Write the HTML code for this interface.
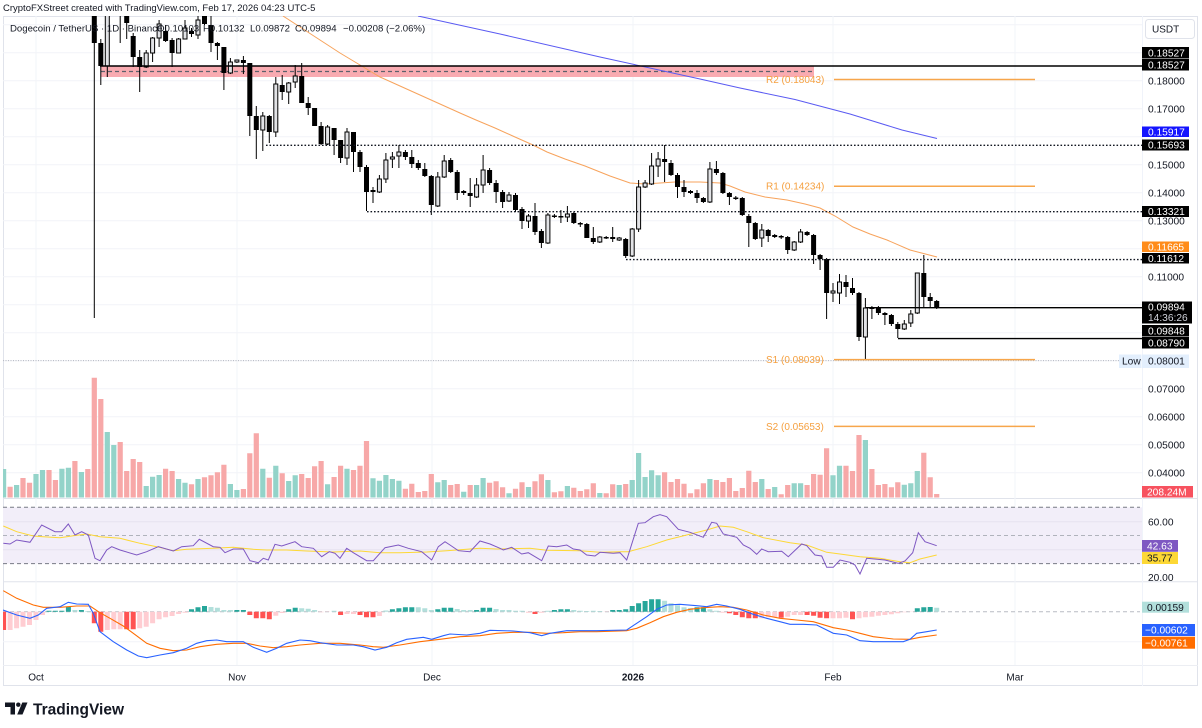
<!DOCTYPE html>
<html><head><meta charset="utf-8"><style>
html,body{margin:0;padding:0;background:#fff;}
svg{display:block;font-family:"Liberation Sans",Arial,sans-serif;}
</style></head><body>
<svg width="1202" height="728" viewBox="0 0 1202 728" xmlns="http://www.w3.org/2000/svg">
<defs>
<clipPath id="cm"><rect x="3" y="16" width="1139" height="482"/></clipPath>
<clipPath id="cr"><rect x="3" y="499" width="1139" height="82"/></clipPath>
<clipPath id="cd"><rect x="3" y="582" width="1139" height="83"/></clipPath>
</defs>
<rect width="1202" height="728" fill="#fff"/>

<!-- header -->
<text x="3" y="11" font-size="9.5" fill="#131722">CryptoFXStreet created with TradingView.com, Feb 17, 2026 04:23 UTC-5</text>

<!-- frame -->
<rect x="3.5" y="16.5" width="1194" height="669" fill="none" stroke="#e0e3eb" stroke-width="1"/>
<line x1="3" y1="498.5" x2="1198" y2="498.5" stroke="#e0e3eb"/>
<line x1="3" y1="581.7" x2="1198" y2="581.7" stroke="#e0e3eb"/>
<line x1="3" y1="665.5" x2="1198" y2="665.5" stroke="#eceef3"/>
<line x1="1142.5" y1="16" x2="1142.5" y2="686" stroke="#f0f3fa"/>

<!-- grid -->
<g stroke="#f2f4f8" stroke-width="1">
<path d="M3 24.7H1142M3 52.7H1142M3 80.7H1142M3 108.7H1142M3 136.7H1142M3 164.7H1142M3 192.7H1142M3 220.7H1142M3 248.7H1142M3 276.7H1142M3 304.7H1142M3 332.7H1142M3 360.7H1142M3 388.7H1142M3 416.7H1142M3 444.7H1142M3 472.7H1142M3 641.7H1142"/>
<path d="M36 16V665M237 16V665M432 16V665M633 16V665M833 16V665M1015 16V665"/>
</g>

<g clip-path="url(#cm)">
<!-- pink zone -->
<rect x="101" y="66" width="713" height="11" fill="#f9abb1"/>
<line x1="101" y1="71.5" x2="813" y2="71.5" stroke="#5d606b" stroke-width="1.2" stroke-dasharray="4 3"/>

<!-- volume -->
<path fill="#93d3c9" d="M1 469h5.2V497.5h-5.2zM14 485h5.2V497.5h-5.2zM33.4 474h5.2V497.5h-5.2zM39.9 470h5.2V497.5h-5.2zM59.3 468.7h5.2V497.5h-5.2zM65.8 467.7h5.2V497.5h-5.2zM78.8 472h5.2V497.5h-5.2zM104.7 432h5.2V497.5h-5.2zM111.2 445h5.2V497.5h-5.2zM143.6 486h5.2V497.5h-5.2zM150 476.7h5.2V497.5h-5.2zM156.5 475h5.2V497.5h-5.2zM176 479h5.2V497.5h-5.2zM182.4 482.7h5.2V497.5h-5.2zM195.4 479h5.2V497.5h-5.2zM227.8 484h5.2V497.5h-5.2zM234.3 490h5.2V497.5h-5.2zM260.2 468.7h5.2V497.5h-5.2zM273.2 465.7h5.2V497.5h-5.2zM286.1 481h5.2V497.5h-5.2zM292.6 475.3h5.2V497.5h-5.2zM325 484.3h5.2V497.5h-5.2zM344.4 468.7h5.2V497.5h-5.2zM370.4 478.3h5.2V497.5h-5.2zM376.8 480.7h5.2V497.5h-5.2zM383.3 475h5.2V497.5h-5.2zM389.8 479h5.2V497.5h-5.2zM396.3 480.7h5.2V497.5h-5.2zM435.2 482.3h5.2V497.5h-5.2zM441.6 480h5.2V497.5h-5.2zM461.1 491.7h5.2V497.5h-5.2zM474 485h5.2V497.5h-5.2zM480.5 478h5.2V497.5h-5.2zM506.4 493.3h5.2V497.5h-5.2zM525.9 487h5.2V497.5h-5.2zM545.3 480h5.2V497.5h-5.2zM564.8 486h5.2V497.5h-5.2zM597.2 493h5.2V497.5h-5.2zM616.6 485h5.2V497.5h-5.2zM629.6 480h5.2V497.5h-5.2zM636 453h5.2V497.5h-5.2zM642.5 477h5.2V497.5h-5.2zM649 470.3h5.2V497.5h-5.2zM655.5 475.3h5.2V497.5h-5.2zM707.3 479h5.2V497.5h-5.2zM759.2 479h5.2V497.5h-5.2zM772.1 487h5.2V497.5h-5.2zM791.6 483.3h5.2V497.5h-5.2zM798 483.3h5.2V497.5h-5.2zM830.4 475.3h5.2V497.5h-5.2zM836.9 465.7h5.2V497.5h-5.2zM862.8 440h5.2V497.5h-5.2zM901.7 484.7h5.2V497.5h-5.2zM908.2 483.3h5.2V497.5h-5.2zM914.7 471h5.2V497.5h-5.2z"/>
<path fill="#f7a8a8" d="M7.5 486.7h5.2V497.5h-5.2zM20.4 478h5.2V497.5h-5.2zM26.9 482.7h5.2V497.5h-5.2zM46.4 470h5.2V497.5h-5.2zM52.8 480h5.2V497.5h-5.2zM72.3 461h5.2V497.5h-5.2zM85.2 469h5.2V497.5h-5.2zM91.7 377.7h5.2V497.5h-5.2zM98.2 399h5.2V497.5h-5.2zM117.6 442h5.2V497.5h-5.2zM124.1 471h5.2V497.5h-5.2zM130.6 459h5.2V497.5h-5.2zM137.1 462h5.2V497.5h-5.2zM163 468.7h5.2V497.5h-5.2zM169.5 471h5.2V497.5h-5.2zM188.9 484.3h5.2V497.5h-5.2zM201.9 477.3h5.2V497.5h-5.2zM208.4 475.3h5.2V497.5h-5.2zM214.8 472.3h5.2V497.5h-5.2zM221.3 464.7h5.2V497.5h-5.2zM240.8 489h5.2V497.5h-5.2zM247.2 453.3h5.2V497.5h-5.2zM253.7 433.3h5.2V497.5h-5.2zM266.7 477.7h5.2V497.5h-5.2zM279.6 473.3h5.2V497.5h-5.2zM299.1 474h5.2V497.5h-5.2zM305.6 478h5.2V497.5h-5.2zM312 466.3h5.2V497.5h-5.2zM318.5 461h5.2V497.5h-5.2zM331.5 477h5.2V497.5h-5.2zM338 465.7h5.2V497.5h-5.2zM350.9 470h5.2V497.5h-5.2zM357.4 465.7h5.2V497.5h-5.2zM363.9 441h5.2V497.5h-5.2zM402.8 488.7h5.2V497.5h-5.2zM409.2 483.7h5.2V497.5h-5.2zM415.7 492h5.2V497.5h-5.2zM422.2 491h5.2V497.5h-5.2zM428.7 474h5.2V497.5h-5.2zM448.1 485h5.2V497.5h-5.2zM454.6 484h5.2V497.5h-5.2zM467.6 485h5.2V497.5h-5.2zM487 482.7h5.2V497.5h-5.2zM493.5 481.3h5.2V497.5h-5.2zM500 487.3h5.2V497.5h-5.2zM512.9 488.7h5.2V497.5h-5.2zM519.4 482.3h5.2V497.5h-5.2zM532.4 481.3h5.2V497.5h-5.2zM538.8 474.3h5.2V497.5h-5.2zM551.8 492.3h5.2V497.5h-5.2zM558.3 491.3h5.2V497.5h-5.2zM571.2 487.7h5.2V497.5h-5.2zM577.7 491h5.2V497.5h-5.2zM584.2 489.3h5.2V497.5h-5.2zM590.7 483.3h5.2V497.5h-5.2zM603.6 493.3h5.2V497.5h-5.2zM610.1 484.3h5.2V497.5h-5.2zM623.1 484h5.2V497.5h-5.2zM662 472.3h5.2V497.5h-5.2zM668.4 482h5.2V497.5h-5.2zM674.9 479h5.2V497.5h-5.2zM681.4 483.7h5.2V497.5h-5.2zM687.9 493.3h5.2V497.5h-5.2zM694.4 489.3h5.2V497.5h-5.2zM700.8 483.3h5.2V497.5h-5.2zM713.8 480h5.2V497.5h-5.2zM720.3 482h5.2V497.5h-5.2zM726.8 478h5.2V497.5h-5.2zM733.2 491h5.2V497.5h-5.2zM739.7 488h5.2V497.5h-5.2zM746.2 470.7h5.2V497.5h-5.2zM752.7 482h5.2V497.5h-5.2zM765.6 489h5.2V497.5h-5.2zM778.6 494.3h5.2V497.5h-5.2zM785.1 485h5.2V497.5h-5.2zM804.5 485h5.2V497.5h-5.2zM811 474h5.2V497.5h-5.2zM817.5 474.7h5.2V497.5h-5.2zM824 448.3h5.2V497.5h-5.2zM843.4 465.7h5.2V497.5h-5.2zM849.9 471h5.2V497.5h-5.2zM856.4 435h5.2V497.5h-5.2zM869.3 469h5.2V497.5h-5.2zM875.8 485h5.2V497.5h-5.2zM882.3 484h5.2V497.5h-5.2zM888.8 487.3h5.2V497.5h-5.2zM895.2 482.3h5.2V497.5h-5.2zM921.2 452.7h5.2V497.5h-5.2zM927.6 477.3h5.2V497.5h-5.2zM934.1 494h5.2V497.5h-5.2z"/>

<!-- moving averages -->
<polyline fill="none" stroke="#5a5af2" stroke-width="1" points="418,16 500,34 600,57 700,79 740,88 795,99.5 850,114 902,130 937,138.5"/>
<polyline fill="none" stroke="#f7a35c" stroke-width="1" points="283,16 300,27 320,40 340,53 360,65 380,77 400,86 420,95 440,104 460,113 476,120 495,128 515,137 533,145 547,152 565,159 585,166 610,176 630,183 645,184 660,183 675,182 700,182 720,183 730,186 745,192 765,197 787,200 805,204 820,208 835,216 853,227 870,234 887,240 910,250 937,257"/>

<!-- wicks -->
<path fill="none" stroke="#000" stroke-width="1" d="M94.3 -10V318M100.8 39V85M107.3 -10V77M120.2 -10V43M126.7 5V39M133.2 33V67M139.7 50V92M146.2 50V68M152.6 37V62M159.1 20V47M165.6 25V42M172.1 38V67M178.6 38V53M185 20V39M191.5 28V37M198 15V39M204.5 10V25M211 15V52M217.4 42V60M223.9 47V90M230.4 58V74M236.9 60V63M243.4 56V74M249.8 63V136M256.3 106V159M262.8 112V151M269.3 115V143M275.8 77V137M282.2 75V100M288.7 82V104M295.2 65V88M301.7 63V103M308.2 97V115M314.6 108V126M321.1 122V145M327.6 125V145M334.1 128V155M340.6 140V163M347 128V165M353.5 132V172M360 150V172M366.5 165V211M373 187V203M379.4 175V193M385.9 153V183M392.4 152V168M398.9 145V168M405.4 150V160M411.8 150V168M418.3 160V170M424.8 163V177M431.3 175V215M437.8 172V207M444.2 155V178M450.7 158V173M457.2 170V200M463.7 190V195M470.2 178V207M476.6 178V198M483.1 155V193M489.6 168V185M496.1 180V203M502.6 190V208M509 192V202M515.5 193V212M522 207V229M528.5 214V228M535 203V235M541.4 229V248M547.9 213V244M554.4 214V218M560.9 210V223M567.4 206V222M573.8 212V224M580.3 222V227M586.8 223V238M593.3 227V244M599.8 236V243M606.2 236V239M612.7 227V242M619.2 237V241M625.7 238V258M632.2 228V257M638.6 180V232M645.1 180V188M651.6 153V185M658.1 152V177M664.6 145V182M671 160V176M677.5 173V198M684 180V197M690.5 190V194M697 190V203M703.4 197V203M709.9 162V203M716.4 161V175M722.9 172V194M729.4 192V205M735.8 196V200M742.3 197V216M748.8 214V247M755.3 222V240M761.8 224V247M768.2 229V242M774.7 234V238M781.2 235V239M787.7 236V254M794.2 241V251M800.6 229V243M807.1 231V236M813.6 234V264M820.1 254V270M826.6 258V319M833 283V302M839.5 274V304M846 275V297M852.5 278V295M859 292V341M865.4 298V359.5M871.9 306V319M878.4 306V315M884.9 312V325M891.4 314V326M897.8 322V338M904.3 320V330M910.8 310V327M917.3 273V314M923.8 255V307M930.2 293V308M936.7 300V309"/>

<!-- bearish bodies -->
<path fill="#000" d="M91.8 0h5v43h-5zM98.3 43h5v23h-5zM117.7 -20h5v25h-5zM124.2 5h5v18h-5zM130.7 36h5v21h-5zM137.2 57h5v10h-5zM163.1 31h5v10h-5zM169.6 40h5v13h-5zM189 31h5v3h-5zM202 16h5v8h-5zM208.5 25h5v18h-5zM214.9 43h5v3h-5zM221.4 47h5v26h-5zM240.9 60h5v3h-5zM247.3 63h5v53h-5zM253.8 116h5v14h-5zM266.8 116h5v16h-5zM279.7 85h5v7h-5zM299.2 76h5v27h-5zM305.7 103h5v5h-5zM312.1 108h5v18h-5zM318.6 126h5v18h-5zM331.6 128h5v12h-5zM338.1 140h5v18h-5zM351 132h5v20h-5zM357.5 152h5v15h-5zM364 167h5v25h-5zM402.9 152h5v5h-5zM409.3 157h5v7h-5zM415.8 163h5v5h-5zM422.3 169h5v7h-5zM428.8 176h5v29h-5zM448.2 160h5v12h-5zM454.7 172h5v21h-5zM467.7 193h5v3h-5zM487.1 170h5v13h-5zM493.6 183h5v9h-5zM500.1 192h5v10h-5zM513 195h5v15h-5zM519.5 209h5v12h-5zM532.5 216h5v16h-5zM538.9 231h5v12h-5zM551.9 215.5h5v1.5h-5zM558.4 216h5v1.5h-5zM571.3 213h5v10h-5zM577.8 223h5v1.5h-5zM584.3 224h5v14h-5zM590.8 238h5v4h-5zM603.7 237h5v1.5h-5zM610.2 237h5v2h-5zM623.2 239h5v17h-5zM662.1 159h5v3h-5zM668.5 163h5v12h-5zM675 175h5v12h-5zM681.5 187h5v5h-5zM688 191h5v2h-5zM694.5 193h5v5h-5zM700.9 198h5v4h-5zM713.9 169h5v4h-5zM720.4 173h5v20h-5zM726.9 193h5v4h-5zM733.3 197.5h5v1.5h-5zM739.8 198h5v17h-5zM746.3 216h5v7h-5zM752.8 223h5v16h-5zM765.7 230h5v6h-5zM778.7 236h5v1.5h-5zM785.2 237h5v13h-5zM804.6 232h5v3h-5zM811.1 235h5v20h-5zM817.6 255h5v4h-5zM824.1 259h5v34h-5zM843.5 282h5v5h-5zM850 288h5v5h-5zM856.5 293h5v44h-5zM869.4 307.5h5v1.5h-5zM875.9 308h5v5h-5zM882.4 313h5v2h-5zM888.9 315h5v9h-5zM895.3 324h5v5h-5zM921.3 273h5v24h-5zM927.7 297h5v4h-5zM934.2 301h5v7h-5z"/>
<!-- bullish bodies -->
<path fill="#e2e3e6" stroke="#000" stroke-width="1" d="M105.3 -10h4v76h-4zM144.2 53h4v14h-4zM150.6 38h4v15h-4zM157.1 24h4v14h-4zM176.6 39h4v14h-4zM183 28h4v11h-4zM196 20h4v15h-4zM228.4 62h4v11h-4zM234.9 60h4v2h-4zM260.8 116h4v14h-4zM273.8 84h4v48h-4zM286.7 83h4v9h-4zM293.2 76h4v6h-4zM325.6 127h4v17h-4zM345 132h4v26h-4zM371 190.5h4v1h-4zM377.4 179h4v13h-4zM383.9 160h4v19h-4zM390.4 157h4v2h-4zM396.9 152h4v4h-4zM435.8 177h4v29h-4zM442.2 161h4v16h-4zM461.7 191.5h4v1h-4zM474.6 185h4v12h-4zM481.1 170h4v15h-4zM507 195h4v6h-4zM526.5 216h4v5h-4zM545.9 215h4v28h-4zM565.4 214h4v3h-4zM597.8 237h4v5h-4zM617.2 238h4v2h-4zM630.2 229h4v27h-4zM636.6 187h4v42h-4zM643.1 183h4v4h-4zM649.6 166h4v18h-4zM656.1 159h4v7h-4zM707.9 169h4v33h-4zM759.8 230h4v8h-4zM772.7 235.5h4v1h-4zM792.2 242h4v8h-4zM798.6 232h4v10h-4zM831 291h4v2h-4zM837.5 282h4v11h-4zM863.4 308h4v29h-4zM902.3 324h4v5h-4zM908.8 314h4v9h-4zM915.3 273h4v40h-4z"/>

<!-- horizontal drawings -->
<line x1="100" y1="66" x2="1142" y2="66" stroke="#000" stroke-width="1.6"/>
<g stroke="#131722" stroke-width="1.4" stroke-dasharray="1.6 1.9">
<line x1="266" y1="145.3" x2="1142" y2="145.3"/>
<line x1="367" y1="211.7" x2="1142" y2="211.7"/>
<line x1="626" y1="259.6" x2="1142" y2="259.6"/>
</g>
<line x1="866" y1="307.7" x2="1142" y2="307.7" stroke="#000" stroke-width="1.4"/>
<line x1="898" y1="338.6" x2="1142" y2="338.6" stroke="#000" stroke-width="1.4"/>
<line x1="3" y1="360.6" x2="1119" y2="360.6" stroke="#b2b5be" stroke-width="1" stroke-dasharray="1 1.5"/>
<g stroke="#f7a64b" stroke-width="1.5">
<line x1="834" y1="79.5" x2="1035" y2="79.5"/>
<line x1="834" y1="186.2" x2="1035" y2="186.2"/>
<line x1="834" y1="359.6" x2="1035" y2="359.6"/>
<line x1="834" y1="426.4" x2="1035" y2="426.4"/>
</g>
<g font-size="10" fill="#f5a040">
<text x="766" y="83">R2 (0.18043)</text>
<text x="766" y="189.7">R1 (0.14234)</text>
<text x="766" y="363.1">S1 (0.08039)</text>
<text x="766" y="429.9">S2 (0.05653)</text>
</g>
</g>

<!-- legend -->
<g font-size="9.6" fill="#131722">
<text x="10" y="31.3">Dogecoin / TetherUS · 1D · Binance</text>
<text x="157" y="31.3">O0.10103</text>
<text x="203" y="31.3">H0.10132</text>
<text x="250" y="31.3">L0.09872</text>
<text x="295" y="31.3">C0.09894</text>
<text x="343" y="31.3">−0.00208 (−2.06%)</text>
</g>

<!-- RSI pane -->
<g clip-path="url(#cr)">
<rect x="3" y="507.3" width="1139" height="56.3" fill="#f2eef9"/>
<line x1="3" y1="521.7" x2="1142" y2="521.7" stroke="#e6e2f0"/>
<line x1="3" y1="549.8" x2="1142" y2="549.8" stroke="#e6e2f0"/>
<line x1="3" y1="507.3" x2="1140" y2="507.3" stroke="#787b86" stroke-dasharray="4 3"/>
<line x1="3" y1="535.5" x2="1140" y2="535.5" stroke="#b0b3bc" stroke-dasharray="4 3"/>
<line x1="3" y1="563.6" x2="1140" y2="563.6" stroke="#787b86" stroke-dasharray="4 3"/>
<polyline fill="none" stroke="#fdd835" stroke-width="1" points="3.3,526 16.7,531.7 33.3,536 43.3,536.7 60,537.7 73.3,535.7 86.7,534 100,536.7 120,538.3 140,543.3 156.7,546.7 173.3,550.7 186.7,549.3 213.3,548.3 233.3,547.3 253.3,549.3 266.7,550 286.7,550 306.7,551 333.3,552 360,551 380,552.7 400,552.7 426.7,552 446.7,550.7 466.7,549.3 480,548.3 496.7,549 530,548.3 546.7,550.3 580,550.7 600,552.3 620,551.7 628.3,551.7 646.7,546.7 666.7,540 686.7,535 706.7,530 720,526 733.3,527.3 746.7,531.7 763.3,537.7 790,542.7 806.7,545 826.7,552.3 840,554 860,556.7 880,558.3 900,561.7 910,562.7 920,559 936.7,555"/>
<polyline fill="none" stroke="#7e57c2" stroke-width="1" points="3.3,543.3 10,544 16.7,540 30,542.3 41.7,525 55,531.7 61.7,531.7 68.3,524 75,535 81.7,531.7 88.3,535 95,558.3 100,560.7 106.7,550 111.7,546.7 120,550 136.7,555 146.7,551.7 158.3,546.7 173.3,551 181.7,546.7 193.3,545.7 199.3,539.3 213.3,546.7 220,547.3 225,552.7 233.3,549 243.3,549 250,560.7 258.3,562.7 263.3,558.3 268.3,560 275,544.3 281.7,546 295,541.7 301.7,546.7 313.3,548.3 321.7,556.7 329.3,551.7 335,553.3 340,558.3 346.7,548.3 353.3,552.7 366.7,560.7 373.3,560.7 385,547.7 398.3,545 408.3,548.3 421.7,551.7 431.7,560 438.3,546.7 445,541.7 450,545 458.3,550.7 470,551.7 480,541 490,544 500,548.3 503.3,550 511.7,547.3 521.7,554 528.3,552.7 541.7,560.7 548.3,546 556.7,546.7 566.7,545 573.3,549 580,550 586.7,555 595,556 600,552.3 613.3,553.3 620,552.7 626.7,560 638.3,523.3 645,522.7 653.3,516.7 660,514.7 666.7,516.7 678.3,529.3 690,532.3 703.3,537.3 711.7,522.3 716.7,523.3 723.3,534 736.7,537.3 743.3,545 750,548.3 756.7,554.3 761.7,549 768.3,551.7 781.7,551.3 788.3,556.7 801.7,544 806.7,545.7 815,555 821.7,556 826.7,567.3 833.3,567.3 840,560 850,562.3 855,565 860,574 866.7,558.3 885,560 898.3,563.3 905,561 912.7,552.7 918.3,532.7 925,541.7 936.7,545.7"/>
</g>

<!-- MACD pane -->
<g clip-path="url(#cd)">
<line x1="3" y1="611.7" x2="1140" y2="611.7" stroke="#b8bbc3" stroke-dasharray="4 3"/>
<path fill="#ff5252" d="M1.1 611.7h5V630h-5zM91.8 611.7h5V623.3h-5zM98.3 611.7h5V631.7h-5zM124.2 611.7h5V629.3h-5zM130.7 611.7h5V629.3h-5zM247.3 611.7h5V615h-5zM253.8 611.7h5V618.3h-5zM260.3 611.7h5V618.3h-5zM266.8 611.7h5V619.3h-5zM338.1 611.7h5V615h-5zM357.5 611.7h5V615h-5zM364 611.7h5V617.3h-5zM370.5 611.7h5V617.3h-5zM532.5 611.7h5V614h-5zM726.9 611.7h5V613.3h-5zM733.3 611.7h5V615h-5zM739.8 611.7h5V617.3h-5zM746.3 611.7h5V618.3h-5zM752.8 611.7h5V618.3h-5zM778.7 611.7h5V617.7h-5zM804.6 611.7h5V615h-5zM811.1 611.7h5V615.7h-5zM817.6 611.7h5V617.7h-5zM824.1 611.7h5V618.3h-5zM850 611.7h5V619.3h-5z"/>
<path fill="#ffcdd2" d="M7.6 611.7h5V630h-5zM14.1 611.7h5V628.3h-5zM20.5 611.7h5V626.7h-5zM27 611.7h5V625h-5zM33.5 611.7h5V620h-5zM40 611.7h5V615h-5zM104.8 611.7h5V630h-5zM111.3 611.7h5V629.3h-5zM117.7 611.7h5V629.3h-5zM137.2 611.7h5V628.3h-5zM143.7 611.7h5V626.7h-5zM150.1 611.7h5V623.3h-5zM156.6 611.7h5V619.3h-5zM163.1 611.7h5V617.3h-5zM169.6 611.7h5V616h-5zM176.1 611.7h5V614h-5zM182.5 611.7h5V612.7h-5zM273.3 611.7h5V615.7h-5zM279.7 611.7h5V613h-5zM318.6 611.7h5V612.3h-5zM325.1 611.7h5V612h-5zM344.5 611.7h5V614h-5zM351 611.7h5V614h-5zM376.9 611.7h5V616h-5zM526 611.7h5V612.7h-5zM538.9 611.7h5V612.7h-5zM603.7 611.7h5V612h-5zM720.4 611.7h5V612.7h-5zM759.3 611.7h5V618.3h-5zM765.7 611.7h5V617.3h-5zM772.2 611.7h5V617.3h-5zM785.2 611.7h5V616.7h-5zM791.7 611.7h5V615h-5zM798.1 611.7h5V615h-5zM830.5 611.7h5V618.3h-5zM837 611.7h5V618.3h-5zM843.5 611.7h5V617.7h-5zM856.5 611.7h5V618.3h-5zM862.9 611.7h5V617.3h-5zM869.4 611.7h5V616.7h-5zM875.9 611.7h5V615.7h-5zM882.4 611.7h5V615h-5zM888.9 611.7h5V614.3h-5zM895.3 611.7h5V613.3h-5zM901.8 611.7h5V612.3h-5zM908.3 611.7h5V612h-5z"/>
<path fill="#26a69a" d="M46.5 610.7h5V611.7h-5zM52.9 610.7h5V611.7h-5zM59.4 610.7h5V611.7h-5zM65.9 606.7h5V611.7h-5zM78.9 610h5V611.7h-5zM189 609.3h5V611.7h-5zM195.5 607.3h5V611.7h-5zM202 606h5V611.7h-5zM234.4 610h5V611.7h-5zM240.9 610h5V611.7h-5zM286.2 609.3h5V611.7h-5zM292.7 607.7h5V611.7h-5zM389.9 609.3h5V611.7h-5zM396.4 608.3h5V611.7h-5zM402.9 607.3h5V611.7h-5zM409.3 607.3h5V611.7h-5zM435.3 609.3h5V611.7h-5zM441.7 607.7h5V611.7h-5zM448.2 607.7h5V611.7h-5zM474.1 610h5V611.7h-5zM480.6 607.7h5V611.7h-5zM487.1 607.7h5V611.7h-5zM551.9 610h5V611.7h-5zM558.4 609.3h5V611.7h-5zM564.9 609.3h5V611.7h-5zM610.2 610h5V611.7h-5zM616.7 610h5V611.7h-5zM623.2 609.3h5V611.7h-5zM629.7 606h5V611.7h-5zM636.1 603.3h5V611.7h-5zM642.6 601h5V611.7h-5zM649.1 599.3h5V611.7h-5zM655.6 599.3h5V611.7h-5zM694.5 607.3h5V611.7h-5zM700.9 607.3h5V611.7h-5zM914.8 608.3h5V611.7h-5zM921.3 607.3h5V611.7h-5zM927.7 607h5V611.7h-5z"/>
<path fill="#b2dfdb" d="M72.4 610h5V611.7h-5zM85.3 611h5V611.7h-5zM208.5 607h5V611.7h-5zM214.9 607.7h5V611.7h-5zM221.4 610h5V611.7h-5zM227.9 610h5V611.7h-5zM299.2 608.3h5V611.7h-5zM305.7 608.7h5V611.7h-5zM312.1 610h5V611.7h-5zM331.6 610.7h5V611.7h-5zM383.4 610.5h5V611.7h-5zM415.8 607.3h5V611.7h-5zM422.3 608.3h5V611.7h-5zM428.8 610h5V611.7h-5zM454.7 609h5V611.7h-5zM461.2 610h5V611.7h-5zM467.7 610h5V611.7h-5zM493.6 609h5V611.7h-5zM500.1 610h5V611.7h-5zM506.5 610h5V611.7h-5zM513 610.7h5V611.7h-5zM519.5 610.7h5V611.7h-5zM545.4 610.7h5V611.7h-5zM571.3 610h5V611.7h-5zM577.8 610.7h5V611.7h-5zM584.3 611h5V611.7h-5zM590.8 610.7h5V611.7h-5zM597.3 611h5V611.7h-5zM662.1 600.7h5V611.7h-5zM668.5 603.3h5V611.7h-5zM675 605.3h5V611.7h-5zM681.5 607.3h5V611.7h-5zM688 608h5V611.7h-5zM707.4 609.3h5V611.7h-5zM713.9 610.7h5V611.7h-5zM934.2 607.7h5V611.7h-5z"/>
<polyline fill="none" stroke="#ff6d00" stroke-width="1.1" points="3.3,590.7 16.7,598.3 33.3,605 43.3,607.3 60,607.3 76.7,606 90,606 100,612.7 110,618.3 123.3,626 133.3,633.3 146.7,643.3 160,648.3 173.3,650.7 186.7,650 200,646.7 216.7,644.3 233.3,643.3 246.7,643.3 260,646 273.3,647.7 286.7,646.7 300,645 320,643.3 340,643.3 360,645 373.3,646.7 383.3,647.3 400,645 420,641.7 440,639.3 460,636.7 480,635.7 496.7,633.3 513.3,632.3 530,632.3 546.7,633.3 563.3,632.7 580,631.7 596.7,631.7 626.7,630.7 636.7,628.3 650,622.7 663.3,616.7 676.7,612.3 690,609.3 703.3,607.7 720,606.7 733.3,607.3 746.7,610 763.3,615 780,618.3 796.7,620 813.3,621.7 833.3,627.7 846.7,630 860,633.3 873.3,636.7 893.3,639 910,639.3 920,637.3 936.7,635"/>
<polyline fill="none" stroke="#2962ff" stroke-width="1.1" points="3,610 16.7,615 30,618.3 38.3,615 46.7,608.3 60,606.7 68.3,602.3 76.7,604 88.3,604.3 93.3,613.3 100,631.7 113.3,641.7 126.7,650 138.3,656 146.7,657.7 160,655 173.3,652.7 186.7,648.3 196.7,643.3 206.7,640.7 216.7,640 226.7,641.7 243.3,641.7 253.3,647.3 266.7,652.3 276.7,648.3 286.7,643.3 300,640 310,640.7 320,642.7 336.7,645 353.3,645 363.3,646.7 375,650 386.7,647.3 396.7,642.7 406.7,639.3 423.3,637.3 431.7,639.3 443.3,635.7 450,634 466.7,635 480,633.3 490,630.3 513.3,631 530,632.7 541.7,635.7 550,633.3 566.7,630.7 580,630.7 596.7,630.7 626.7,630 636.7,623.3 646.7,616.7 656.7,609.3 666.7,605 680,604.3 696.7,605.7 706.7,606.7 716.7,604.3 726.7,606 740,609.3 753.3,614.3 766.7,618.3 780,621.7 790,624.3 803.3,624.3 816.7,625 826.7,630 833.3,633.3 846.7,635 860,640.7 873.3,641.7 890,641.7 903.3,641.7 910,639.3 916.7,633.3 926.7,631.7 936.7,630"/>
</g>

<!-- right axis -->
<rect x="1145.5" y="19.5" width="49" height="19" rx="3" fill="#fff" stroke="#e0e3eb"/>
<text x="1152" y="32.5" font-size="10" fill="#131722">USDT</text>
<g font-size="10.2" fill="#131722">
<text x="1148" y="84.3">0.18000</text>
<text x="1148" y="112.3">0.17000</text>
<text x="1148" y="168.3">0.15000</text>
<text x="1148" y="196.3">0.14000</text>
<text x="1148" y="224.3">0.13000</text>
<text x="1148" y="280.3">0.11000</text>
<text x="1148" y="392.3">0.07000</text>
<text x="1148" y="420.3">0.06000</text>
<text x="1148" y="448.3">0.05000</text>
<text x="1148" y="476.3">0.04000</text>
<text x="1148" y="525.3">60.00</text>
<text x="1148" y="581">20.00</text>
</g>
<g font-size="10.2">
<rect x="1142" y="47" width="47" height="11.5" fill="#000"/>
<text x="1148" y="56.3" fill="#fff">0.18527</text>
<rect x="1142" y="59" width="47" height="11.5" fill="#000"/>
<text x="1148" y="68.3" fill="#fff">0.18527</text>
<rect x="1142" y="126.5" width="47" height="10.5" fill="#1414ff"/>
<text x="1148" y="135.3" fill="#fff">0.15917</text>
<rect x="1142" y="139.5" width="47" height="11" fill="#000"/>
<text x="1148" y="148.5" fill="#fff">0.15693</text>
<rect x="1142" y="206" width="47" height="11" fill="#000"/>
<text x="1148" y="215" fill="#fff">0.13321</text>
<rect x="1142" y="241.5" width="47" height="10.5" fill="#ff8c1a"/>
<text x="1148" y="250.3" fill="#fff">0.11665</text>
<rect x="1142" y="253" width="47" height="10.5" fill="#000"/>
<text x="1148" y="261.8" fill="#fff">0.11612</text>
<rect x="1142" y="301.5" width="50" height="22" fill="#000"/>
<text x="1148" y="310.5" fill="#fff">0.09894</text>
<text x="1148" y="321" fill="#d1d4dc">14:36:26</text>
<rect x="1142" y="325" width="47" height="11.5" fill="#000"/>
<text x="1148" y="334.3" fill="#fff">0.09848</text>
<rect x="1142" y="337" width="47" height="11.5" fill="#000"/>
<text x="1148" y="346.3" fill="#fff">0.08790</text>
<rect x="1119" y="354.5" width="22.5" height="13.5" fill="#e3effd"/>
<text x="1122" y="364.6" fill="#131722">Low</text>
<rect x="1142" y="354.5" width="47" height="13.5" fill="#e3effd"/>
<text x="1148" y="364.6" fill="#131722">0.08001</text>
<rect x="1142" y="486" width="51" height="11.5" fill="#f7525f"/>
<text x="1147" y="495.3" fill="#fff">208.24M</text>
<rect x="1142" y="540" width="36" height="11.8" fill="#7e57c2"/>
<text x="1147" y="549.5" fill="#fff">42.63</text>
<rect x="1142" y="552" width="36" height="12" fill="#fdd835"/>
<text x="1147" y="561.6" fill="#131722">35.77</text>
<rect x="1142" y="601.7" width="47" height="11" fill="#b2dfdb"/>
<text x="1147" y="610.8" fill="#131722">0.00159</text>
<rect x="1142" y="624" width="53" height="12" fill="#2962ff"/>
<text x="1145" y="633.6" fill="#fff">−0.00602</text>
<rect x="1142" y="636.7" width="53" height="12" fill="#ff6d00"/>
<text x="1145" y="646.3" fill="#fff">−0.00761</text>
</g>

<!-- time axis -->
<g font-size="10" fill="#131722" text-anchor="middle">
<text x="36" y="680.5">Oct</text>
<text x="237" y="680.5">Nov</text>
<text x="432" y="680.5">Dec</text>
<text x="633" y="680.5" font-weight="bold">2026</text>
<text x="833" y="680.5">Feb</text>
<text x="1015" y="680.5">Mar</text>
</g>

<!-- logo -->
<g fill="#131722">
<path d="M5 702.5h10v12h-4.5v-7.5H5z"/>
<circle cx="18.3" cy="704.7" r="2.2"/>
<path d="M22.3 702.5h5.2l-5 12h-5.3z"/>
</g>
<text x="33" y="714.5" font-size="15.5" font-weight="bold" fill="#131722">TradingView</text>
</svg>
</body></html>
